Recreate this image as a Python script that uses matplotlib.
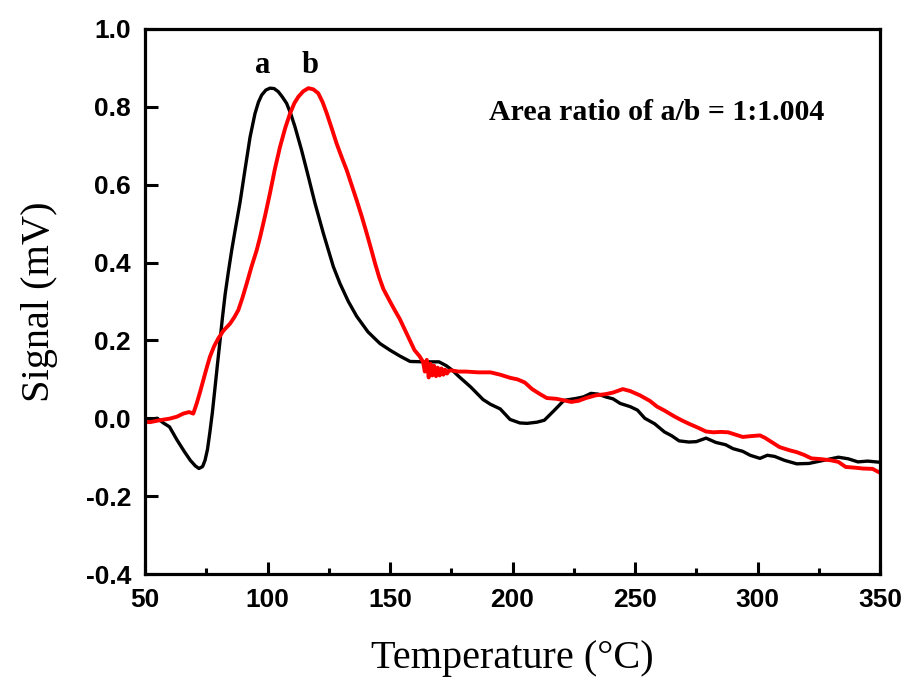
import numpy as np
import matplotlib
matplotlib.use("Agg")
import matplotlib.pyplot as plt
from matplotlib.ticker import MultipleLocator

#==# DATA #==#
temp_a = [50, 52, 55, 57.5, 60, 63, 66, 68.5, 70.5, 72, 73.5, 74.5, 75.5, 76.5,
          77.5, 78.6, 79.6, 80.6, 81.6, 82.7, 84, 85.4, 86.7, 88.8, 90.8, 92.9,
          94.9, 96.3, 97.6, 99.3, 101, 102.7, 104.4, 106, 107.8, 109.5, 111.2,
          113.9, 116.7, 119.4, 122.8, 126.9, 129.6, 133, 136.4, 141, 145.9, 150,
          154, 158.2, 164, 170, 173, 175.5, 178, 183, 188, 191, 195, 199, 203,
          206, 210, 213, 217, 221, 226, 229, 232, 235, 238, 241, 244, 248, 251,
          254, 258, 262, 265, 268, 272, 275, 279, 283, 287, 290, 294, 297, 301,
          304, 307, 311, 316, 321, 324, 327, 330, 333, 337, 341, 345, 350]
signal_a = [0.0, -0.003, 0.0, -0.012, -0.022, -0.055, -0.085, -0.108, -0.122,
            -0.129, -0.124, -0.108, -0.08, -0.035, 0.015, 0.08, 0.14, 0.198, 0.258,
            0.318, 0.375, 0.432, 0.48, 0.555, 0.638, 0.723, 0.783, 0.812, 0.83,
            0.843, 0.848, 0.847, 0.839, 0.826, 0.809, 0.782, 0.749, 0.689, 0.62,
            0.552, 0.475, 0.389, 0.346, 0.3, 0.262, 0.222, 0.192, 0.175, 0.16,
            0.146, 0.145, 0.145, 0.135, 0.123, 0.108, 0.08, 0.048, 0.036, 0.024,
            -0.003, -0.012, -0.013, -0.01, -0.005, 0.02, 0.046, 0.051, 0.055,
            0.064, 0.062, 0.055, 0.05, 0.038, 0.03, 0.021, 0.0, -0.014, -0.035,
            -0.045, -0.058, -0.061, -0.06, -0.051, -0.062, -0.068, -0.078, -0.085,
            -0.095, -0.103, -0.095, -0.098, -0.108, -0.117, -0.116, -0.112, -0.108,
            -0.104, -0.1, -0.104, -0.112, -0.11, -0.113]

temp_b = [50, 52, 56, 60, 63, 65.6, 68, 69.7, 71.1, 72.5, 73.8, 75.2, 76.5, 78.2,
          79.9, 82, 84.7, 86.5, 88.1, 89.8, 91.5, 93.5, 95.6, 97, 99, 101, 103,
          105.1, 107.2, 109.2, 111, 112.6, 114.6, 116.7, 118.7, 120.7, 122.5,
          124.2, 126.2, 128.2, 130.2, 132.3, 134.3, 136.4, 138.5, 140.5, 142.2,
          143.9, 145.6, 147.3, 150, 152, 154, 157, 160, 162, 163.5, 164.2, 165,
          165.8, 166.5, 167.3, 168, 168.8, 169.5, 170.3, 171, 171.8, 172.5,
          173.3, 174, 175, 178, 181, 186, 191, 195, 199, 202, 205, 208, 211,
          214, 218, 221, 224, 227, 230, 234, 238, 241, 245, 248, 252, 256, 259,
          262, 266, 269, 272, 276, 279, 282, 285, 288, 291, 294, 297, 299, 301,
          303, 306, 309, 313, 316, 319, 322, 326, 330, 333, 336, 340, 343, 347,
          350]
signal_b = [-0.009, -0.01, -0.005, -0.001, 0.004, 0.012, 0.016, 0.012, 0.038,
            0.068, 0.098, 0.13, 0.158, 0.185, 0.205, 0.225, 0.243, 0.26, 0.278,
            0.31, 0.346, 0.39, 0.432, 0.466, 0.52, 0.578, 0.64, 0.697, 0.745,
            0.783, 0.81, 0.826, 0.84, 0.848, 0.845, 0.835, 0.812, 0.783, 0.745,
            0.706, 0.672, 0.638, 0.6, 0.56, 0.518, 0.475, 0.437, 0.398, 0.362,
            0.332, 0.3, 0.277, 0.255, 0.215, 0.175, 0.16, 0.145, 0.12, 0.15,
            0.105, 0.14, 0.11, 0.135, 0.108, 0.13, 0.11, 0.128, 0.112, 0.125,
            0.115, 0.122, 0.123, 0.12, 0.12, 0.118, 0.118, 0.112, 0.104, 0.1,
            0.092, 0.075, 0.063, 0.052, 0.05, 0.046, 0.042, 0.045, 0.052, 0.059,
            0.062, 0.066, 0.075, 0.07, 0.059, 0.045, 0.03, 0.02, 0.005, -0.005,
            -0.014, -0.025, -0.034, -0.036, -0.035, -0.036, -0.042, -0.048,
            -0.046, -0.045, -0.044, -0.05, -0.062, -0.074, -0.082, -0.087, -0.094,
            -0.103, -0.105, -0.108, -0.112, -0.125, -0.127, -0.129, -0.13, -0.14]

x_ticks = [50, 100, 150, 200, 250, 300, 350]
y_ticks = [-0.4, -0.2, 0.0, 0.2, 0.4, 0.6, 0.8, 1.0]

serif = ['Liberation Serif', 'DejaVu Serif']
sans = ['Liberation Sans', 'DejaVu Sans']

#==# FIGURE #==#
fig = plt.figure(figsize=(9.07, 6.81), dpi=100)
ax = fig.add_axes([145 / 907, 1 - 574 / 681, 735 / 907, 545 / 681])

ax.plot(temp_a, signal_a, color='black', lw=2.4, solid_joinstyle='round')
ax.plot(temp_b, signal_b, color='red', lw=2.8, solid_joinstyle='round')

ax.set_xlim(50, 350)
ax.set_ylim(-0.4, 1.0)
ax.set_xticks(x_ticks)
ax.set_yticks(y_ticks)
ax.set_yticklabels(['%.1f' % v for v in y_ticks])
ax.xaxis.set_minor_locator(MultipleLocator(25))

ax.tick_params(which='both', direction='in', top=False, right=False,
               width=2.2, pad=10)
ax.tick_params(which='major', length=9)
ax.tick_params(which='minor', length=4.5)
for lbl in ax.get_xticklabels() + ax.get_yticklabels():
    lbl.set_family(sans)
    lbl.set_fontweight('bold')
    lbl.set_fontsize(19)

for sp in ax.spines.values():
    sp.set_linewidth(2.3)

ax.set_xlabel('Temperature (°C)', family=serif, fontsize=29, labelpad=20)
ax.set_ylabel('Signal (mV)', family=serif, fontsize=29, labelpad=20)

ax.text(98.2, 0.905, 'a', family=serif, fontweight='bold', fontsize=22,
        ha='center', va='center')
ax.text(117.3, 0.905, 'b', family=serif, fontweight='bold', fontsize=22,
        ha='center', va='center')
ax.text(259, 0.786, 'Area ratio of a/b = 1:1.004', family=serif,
        fontweight='bold', fontsize=21.5, ha='center', va='center')

fig.savefig('out.png', dpi=100)
